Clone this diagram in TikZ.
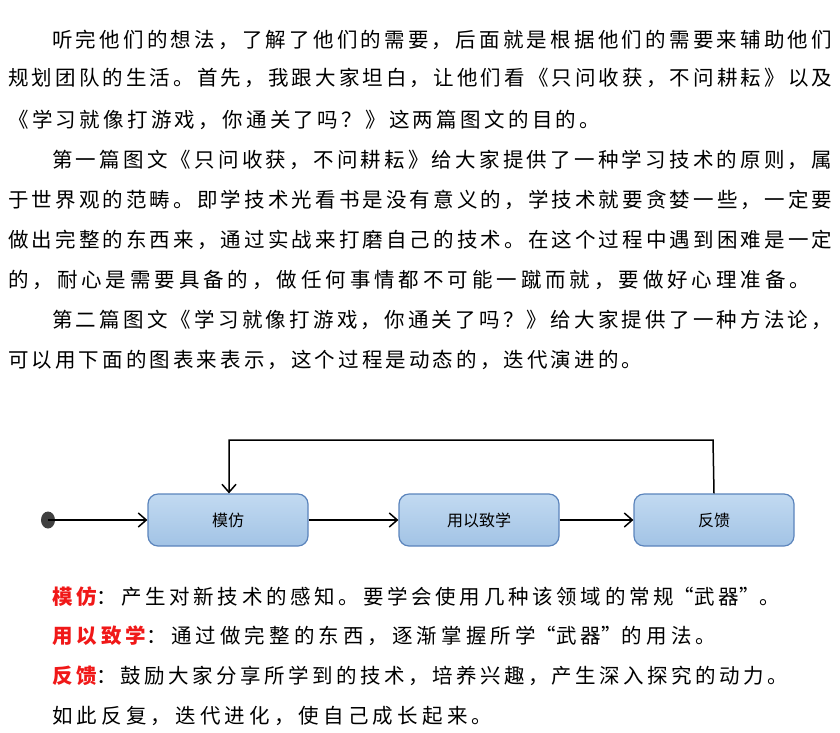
\documentclass[tikz,border=0pt]{standalone}
\usepackage{fontspec}
\setmainfont{Noto Sans CJK SC}
\usetikzlibrary{arrows.meta}
\newcount\cjkc
\cjkc="3000 \loop\XeTeXcharclass\cjkc=7 \advance\cjkc by 1 \ifnum\cjkc<"3040 \repeat
\cjkc="4E00 \loop\XeTeXcharclass\cjkc=7 \advance\cjkc by 1 \ifnum\cjkc<"A000 \repeat
\cjkc="FF00 \loop\XeTeXcharclass\cjkc=7 \advance\cjkc by 1 \ifnum\cjkc<"FF60 \repeat
\XeTeXinterchartokenstate=1
\XeTeXinterchartoks 7 7 = {\hskip0pt plus 1fil\relax}
\definecolor{boxtop}{HTML}{C2DAF1}
\definecolor{boxbot}{HTML}{A2C3E5}
\definecolor{boxline}{HTML}{5B84BC}
\definecolor{redlbl}{HTML}{F01818}
\newcommand{\lbl}[1]{\textcolor{redlbl}{\bfseries #1}}
\begin{document}
\begin{tikzpicture}[x=1pt,y=-1pt,
  txt/.style={anchor=west,inner sep=0pt,font=\fontsize{20.5}{20}\selectfont},
  state/.style={draw=boxline,line width=1.2pt,rounded corners=10pt,top color=boxtop,bottom color=boxbot,minimum width=160pt,minimum height=52pt,font=\fontsize{16}{16}\selectfont},
  arr/.style={line width=1.5pt,-{Straight Barb[length=8pt,width=14pt,line width=1.5pt]}}]
\useasboundingbox (0,0) rectangle (840,732);
\node[txt] (l1) at (52,40) {\makebox[780pt][s]{听完他们的想法，了解了他们的需要，后面就是根据他们的需要来辅助他们}};
\node[txt] (l2) at (8,78) {\makebox[824pt][s]{规划团队的生活。首先，我跟大家坦白，让他们看《只问收获，不问耕耘》以及}};
\node[txt] (l3) at (8,120) {\makebox[592pt][s]{《学习就像打游戏，你通关了吗？》这两篇图文的目的。}};
\node[txt] (l4) at (52,160) {\makebox[780pt][s]{第一篇图文《只问收获，不问耕耘》给大家提供了一种学习技术的原则，属}};
\node[txt] (l5) at (8,200) {\makebox[824pt][s]{于世界观的范畴。即学技术光看书是没有意义的，学技术就要贪婪一些，一定要}};
\node[txt] (l6) at (8,240) {\makebox[824pt][s]{做出完整的东西来，通过实战来打磨自己的技术。在这个过程中遇到困难是一定}};
\node[txt] (l7) at (8,280) {\makebox[802pt][s]{的，耐心是需要具备的，做任何事情都不可能一蹴而就，要做好心理准备。}};
\node[txt] (l8) at (52,320) {\makebox[780pt][s]{第二篇图文《学习就像打游戏，你通关了吗？》给大家提供了一种方法论，}};
\node[txt] (l9) at (8,360) {\makebox[634pt][s]{可以用下面的图表来表示，这个过程是动态的，迭代演进的。}};

\fill[black!75] (48,520) ellipse (7pt and 8.5pt) coordinate (dot);
\node[state] (a) at (228,520) {模仿};
\node[state] (b) at (479,520) {用以致学};
\node[state] (c) at (714,520) {反馈};
\draw[arr] (dot) -- (a);
\draw[arr] (a) -- (b);
\draw[arr] (b) -- (c);
\coordinate (t1) at (713,440);
\coordinate (t2) at (229,440);
\draw[arr] (c.north) -- (t1) -- (t2) -- (a.north -| t2);

\node[txt] (m1) at (52,597) {\makebox[728pt][s]{\lbl{模仿}：产生对新技术的感知。要学会使用几种该领域的常规“武器”。}};
\node[txt] (m2) at (52,636) {\makebox[664pt][s]{\lbl{用以致学}：通过做完整的东西，逐渐掌握所学“武器”的用法。}};
\node[txt] (m3) at (52,676) {\makebox[736pt][s]{\lbl{反馈}：鼓励大家分享所学到的技术，培养兴趣，产生深入探究的动力。}};
\node[txt] (m4) at (52,716) {\makebox[440pt][s]{如此反复，迭代进化，使自己成长起来。}};
\end{tikzpicture}
\end{document}
